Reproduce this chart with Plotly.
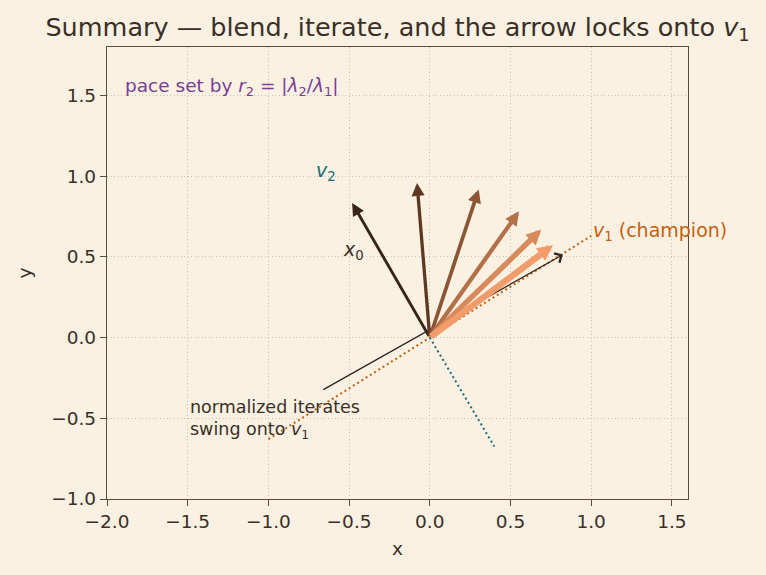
import plotly.graph_objects as go

# ---- data ----
iterate_names = ["x0", "x1", "x2", "x3", "x4", "x5"]
iterate_x = [-0.481, -0.079, 0.303, 0.553, 0.691, 0.763]
iterate_y = [0.834, 0.958, 0.918, 0.782, 0.669, 0.572]
iterate_colors = ["#3a2519", "#5e3822", "#8c5534", "#b3714a", "#d88a5c", "#f39c6b"]
iterate_widths = [2.9, 3.3, 3.7, 4.3, 5.4, 6.4]
iterate_head_px = [2.5, 2.6, 2.7, 2.8, 3.0, 3.1]

v1_line_x = [-1.0, 1.0]
v1_line_y = [-0.63, 0.63]
v2_line_x = [0.0, 0.40]
v2_line_y = [0.0, -0.675]

pointer_tail = (-0.669, -0.328)
pointer_tip = (0.825, 0.514)

xticks = [-2.0, -1.5, -1.0, -0.5, 0.0, 0.5, 1.0, 1.5]
yticks = [-1.0, -0.5, 0.0, 0.5, 1.0, 1.5]

BG = "#faf1e3"
INK = "#3a2f27"
FRAME = "#5b4c3e"
ORANGE = "#c8600e"
TEAL = "#1d6b77"
PURPLE = "#7a3d98"
FONT = "DejaVu Sans"

fig = go.Figure()
fig.add_trace(go.Scatter(x=v1_line_x, y=v1_line_y, mode="lines",
                         line=dict(color=ORANGE, width=2, dash="2px,3px"),
                         hoverinfo="skip", showlegend=False))
fig.add_trace(go.Scatter(x=v2_line_x, y=v2_line_y, mode="lines",
                         line=dict(color=TEAL, width=2, dash="2px,3px"),
                         hoverinfo="skip", showlegend=False))

annotations = []
annotations.append(dict(x=pointer_tip[0], y=pointer_tip[1], ax=pointer_tail[0], ay=pointer_tail[1],
                        xref="x", yref="y", axref="x", ayref="y", text="", showarrow=True,
                        arrowhead=4, arrowsize=1.6, arrowwidth=1.3, arrowcolor="#2e2520"))
for name, xx, yy, c, w, h in zip(iterate_names, iterate_x, iterate_y, iterate_colors,
                                 iterate_widths, iterate_head_px):
    annotations.append(dict(x=xx, y=yy, ax=0, ay=0, xref="x", yref="y", axref="x", ayref="y",
                            text="", showarrow=True, arrowhead=2, arrowsize=h / w,
                            arrowwidth=w, arrowcolor=c))

annotations += [
    dict(x=-1.9, y=1.55, xref="x", yref="y", showarrow=False, xanchor="left", yanchor="middle",
         text="pace set by <i>r</i><sub>2</sub> = |<i>λ</i><sub>2</sub>/<i>λ</i><sub>1</sub>|",
         font=dict(family=FONT, size=18.5, color=PURPLE)),
    dict(x=-0.64, y=1.03, xref="x", yref="y", showarrow=False, xanchor="center", yanchor="middle",
         text="<i>v</i><sub>2</sub>", font=dict(family=FONT, size=19, color=TEAL)),
    dict(x=-0.47, y=0.54, xref="x", yref="y", showarrow=False, xanchor="center", yanchor="middle",
         text="<i>x</i><sub>0</sub>", font=dict(family=FONT, size=19, color=INK)),
    dict(x=1.0, y=0.655, xref="x", yref="y", showarrow=False, xanchor="left", yanchor="middle",
         text="<i>v</i><sub>1</sub> (champion)", font=dict(family=FONT, size=19, color=ORANGE)),
    dict(x=-1.5, y=-0.43, xref="x", yref="y", showarrow=False, xanchor="left", yanchor="middle",
         text="normalized iterates", font=dict(family=FONT, size=17.5, color=INK)),
    dict(x=-1.5, y=-0.575, xref="x", yref="y", showarrow=False, xanchor="left", yanchor="middle",
         text="swing onto <i>v</i><sub>1</sub>", font=dict(family=FONT, size=17.5, color=INK)),
]

axis_common = dict(
    showline=True, mirror=True, linecolor=FRAME, linewidth=1.3,
    ticks="outside", ticklen=6, tickwidth=1.2, tickcolor=FRAME,
    showgrid=True, gridcolor="#c9c1b3", griddash="1px,2.5px", gridwidth=1,
    zeroline=False, tickformat=".1f",
    tickfont=dict(family=FONT, size=18.5, color=INK),
)

fig.update_layout(
    width=766, height=575,
    margin=dict(l=107, r=78, t=47, b=76),
    paper_bgcolor=BG, plot_bgcolor=BG,
    font=dict(family=FONT, color=INK),
    title=dict(text="Summary — blend, iterate, and the arrow locks onto <i>v</i><sub>1</sub>",
               x=0.5, xref="paper", y=1 - 27 / 575, yref="container", yanchor="middle",
               font=dict(family=FONT, size=25.5, color=INK)),
    xaxis=dict(range=[-2.0, 1.6], tickvals=xticks,
               title=dict(text="x", standoff=10, font=dict(family=FONT, size=18.5, color=INK)),
               **axis_common),
    yaxis=dict(range=[-1.0, 1.8], tickvals=yticks,
               title=dict(text="y", standoff=14, font=dict(family=FONT, size=18.5, color=INK)),
               **axis_common),
    annotations=annotations,
    showlegend=False,
)

fig.write_html("out.html")
